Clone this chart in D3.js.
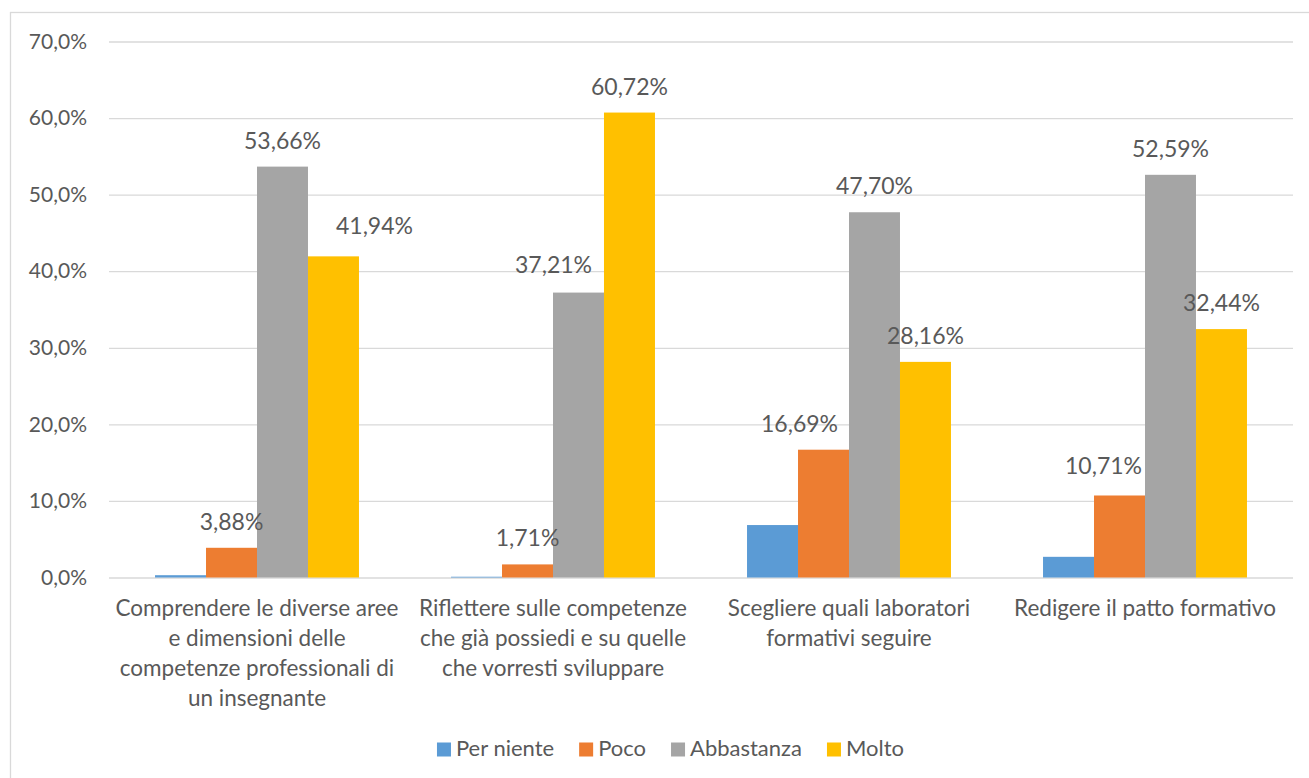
<!DOCTYPE html>
<html>
<head>
<meta charset="utf-8">
<script src="https://cdn.jsdelivr.net/npm/d3@7"></script>
<style>
  html, body { margin: 0; padding: 0; background: #ffffff; }
  svg { display: block; }
  text { font-family: Lato, "Liberation Sans", sans-serif; fill: #595959; }
</style>
</head>
<body>
<div id="chart"></div>
<script>
// categories (already wrapped the way the original shows them)
const categories = [
  ["Comprendere le diverse aree", "e dimensioni delle", "competenze professionali di", "un insegnante"],
  ["Riflettere sulle competenze", "che già possiedi e su quelle", "che vorresti sviluppare"],
  ["Scegliere quali laboratori", "formativi seguire"],
  ["Redigere il patto formativo"]
];

const seriesNames = ["Per niente", "Poco", "Abbastanza", "Molto"];

// values in percent, one per category
const perNiente  = [0.3, 0.1, 6.85, 2.7];
const poco       = [3.88, 1.71, 16.69, 10.71];
const abbastanza = [53.66, 37.21, 47.70, 52.59];
const molto      = [41.94, 60.72, 28.16, 32.44];

const yTicks = [0, 10, 20, 30, 40, 50, 60, 70];

// which series show a data label
const labelled = [false, true, true, true];

// hand moved labels in the original: [category, series, dx, dy]
const labelNudge = [
  [0, 3, 41, -4],
  [1, 2, -25, -2],
  [2, 1, -24, 0],
  [3, 1, -16, -3]
];

const colors = ["#5B9BD5", "#ED7D31", "#A5A5A5", "#FFC000"];

const W = 1309, H = 778;
const plot = {left: 109, right: 1293, top: 41.5, bottom: 577.5};

const allSeries = [perNiente, poco, abbastanza, molto];

const it = d3.formatLocale({decimal: ",", thousands: ".", grouping: [3], currency: ["€", ""]});
const tickFmt = d => it.format(".1f")(d) + "%";
const labelFmt = d => it.format(".2f")(d) + "%";

const svg = d3.select("#chart").append("svg")
  .attr("width", W)
  .attr("height", H);

// chart area border (right and bottom edges fall outside the picture)
svg.append("rect")
  .attr("x", 10.5).attr("y", 12.5)
  .attr("width", W + 10).attr("height", H + 10)
  .attr("fill", "none")
  .attr("stroke", "#d9d9d9")
  .attr("stroke-width", 1.3);

var x = d3.scaleBand()
  .domain(d3.range(categories.length))
  .range([plot.left, plot.right])
  .paddingInner(0.311)
  .paddingOuter(0.1555);

var xs = d3.scaleBand()
  .domain(d3.range(seriesNames.length))
  .range([0, x.bandwidth()]);

var y = d3.scaleLinear()
  .domain([0, 70])
  .range([plot.bottom, plot.top]);

// gridlines + tick labels
var yAxis = svg.append("g")
  .attr("transform", "translate(" + plot.left + ",0)")
  .call(d3.axisLeft(y).tickValues(yTicks).tickFormat(tickFmt)
    .tickSize(-(plot.right - plot.left)).tickPadding(22));
yAxis.select(".domain").remove();
yAxis.selectAll(".tick line")
  .attr("stroke", "#d9d9d9")
  .attr("stroke-width", 1.3);
yAxis.selectAll(".tick text")
  .style("font-size", "21px")
  .style("font-family", "Lato, 'Liberation Sans', sans-serif")
  .attr("fill", "#595959");

// bars
const rows = [];
categories.forEach((c, ci) => {
  allSeries.forEach((s, si) => {
    rows.push({ci: ci, si: si, v: s[ci]});
  });
});

svg.append("g")
  .selectAll("rect")
  .data(rows)
  .enter()
  .append("rect")
    .attr("x", d => x(d.ci) + xs(d.si))
    .attr("y", d => y(d.v))
    .attr("width", xs.bandwidth())
    .attr("height", d => y(0) - y(d.v))
    .attr("fill", d => colors[d.si]);

// data labels
function nudge(d) {
  const n = labelNudge.find(k => k[0] === d.ci && k[1] === d.si);
  return n ? [n[2], n[3]] : [0, 0];
}

svg.append("g")
  .selectAll("text")
  .data(rows.filter(d => labelled[d.si]))
  .enter()
  .append("text")
    .attr("x", d => x(d.ci) + xs(d.si) + xs.bandwidth() / 2 + nudge(d)[0])
    .attr("y", d => y(d.v) - 18 + nudge(d)[1])
    .attr("text-anchor", "middle")
    .style("font-size", "23px")
    .text(d => labelFmt(d.v));

// category labels
const cat = svg.append("g")
  .selectAll("text")
  .data(categories)
  .enter()
  .append("text")
    .attr("text-anchor", "middle")
    .attr("x", (d, i) => x(i) + x.bandwidth() / 2)
    .attr("y", 616)
    .style("font-size", "22.5px");
cat.selectAll("tspan")
  .data(d => d)
  .enter()
  .append("tspan")
    .attr("x", function () { return d3.select(this.parentNode).attr("x"); })
    .attr("dy", (d, i) => i === 0 ? 0 : 30)
    .text(d => d);

// legend
const legend = svg.append("g");
let lx = 0;
seriesNames.forEach((name, i) => {
  const g = legend.append("g").attr("transform", "translate(" + lx + ",0)");
  g.append("rect")
    .attr("x", 0).attr("y", 742.5)
    .attr("width", 14).attr("height", 14)
    .attr("fill", colors[i]);
  const t = g.append("text")
    .attr("x", 19).attr("y", 756)
    .style("font-size", "22px")
    .text(name);
  lx += 19 + t.node().getComputedTextLength() + 25;
});
const legendW = lx - 25;
legend.attr("transform", "translate(" + (670.5 - legendW / 2) + ",0)");
</script>
</body>
</html>
